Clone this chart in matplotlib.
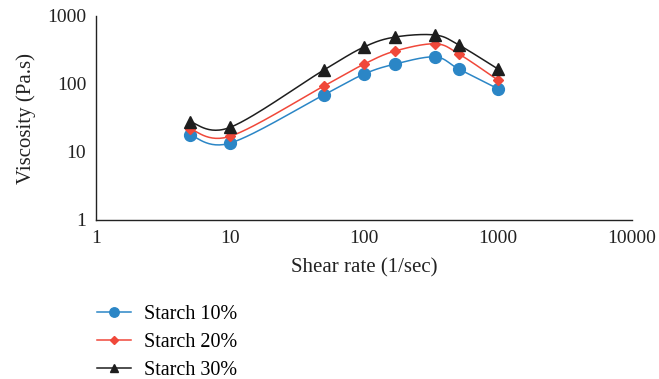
import numpy as np
import matplotlib
matplotlib.use("Agg")
import matplotlib.pyplot as plt

shear_rate = [5, 10, 50, 100, 170, 340, 510, 1000]
starch_10 = [18, 13.5, 69, 140, 196, 250, 166, 85]
starch_20 = [22, 17, 93, 196, 305, 390, 277, 114]
starch_30 = [28, 23, 160, 350, 490, 525, 375, 166]
labels = ["Starch 10%", "Starch 20%", "Starch 30%"]
colors = ["#2b86c6", "#f0483a", "#1e1e1e"]
markers = ["o", "D", "^"]
msizes = [8.5, 5.5, 8]

plt.rcParams['font.family'] = ['Liberation Serif', 'DejaVu Serif']


def smooth(x, y, n=30):
    lx = np.log10(np.asarray(x, float))
    ly = np.log10(np.asarray(y, float))
    P = np.column_stack([lx, ly])
    P = np.vstack([P[0], P, P[-1]])
    out = []
    for i in range(1, len(P) - 2):
        p0, p1, p2, p3 = P[i - 1], P[i], P[i + 1], P[i + 2]
        t = np.linspace(0, 1, n)[:, None]
        c = 0.5 * ((2 * p1) + (-p0 + p2) * t + (2 * p0 - 5 * p1 + 4 * p2 - p3) * t ** 2
                   + (-p0 + 3 * p1 - 3 * p2 + p3) * t ** 3)
        out.append(c)
    c = np.vstack(out)
    return 10 ** c[:, 0], 10 ** c[:, 1]


fig = plt.figure(figsize=(6.59, 3.79), dpi=100)
ax = fig.add_axes([96 / 659, 1 - 220 / 379, (632 - 96) / 659, (220 - 16) / 379])

handles = []
for ys, lab, col, mk, ms in zip([starch_10, starch_20, starch_30], labels, colors, markers, msizes):
    sx, sy = smooth(shear_rate, ys)
    ax.plot(sx, sy, color=col, lw=1.1)
    ax.plot(shear_rate, ys, ls="none", marker=mk, color=col, ms=ms)
    h, = ax.plot([], [], color=col, lw=1.1, marker=mk, ms=ms * 0.8, label=lab)
    handles.append(h)

ax.set_xscale("log")
ax.set_yscale("log")
ax.set_xlim(1, 10000)
ax.set_ylim(1, 1000)
ax.set_xticks([1, 10, 100, 1000, 10000])
ax.set_xticklabels(["1", "10", "100", "1000", "10000"])
ax.set_yticks([1, 10, 100, 1000])
ax.set_yticklabels(["1", "10", "100", "1000"])
ax.minorticks_off()
ax.tick_params(length=0, labelsize=14, pad=7, colors="#222222")
for s in ["top", "right"]:
    ax.spines[s].set_visible(False)
for s in ["left", "bottom"]:
    ax.spines[s].set_color("#222222")
    ax.spines[s].set_linewidth(1.0)
ax.set_xlabel("Shear rate (1/sec)", fontsize=15, color="#222222", labelpad=8)
ax.set_ylabel("Viscosity (Pa.s)", fontsize=15, color="#222222", labelpad=8)

fig.legend(handles=handles, loc="upper left", bbox_to_anchor=(97 / 659, 1 - 305 / 379),
           frameon=False, fontsize=14.5, handlelength=1.7, labelspacing=0.45,
           handletextpad=0.65, borderaxespad=0, borderpad=0)

fig.savefig("out.png", dpi=100)
